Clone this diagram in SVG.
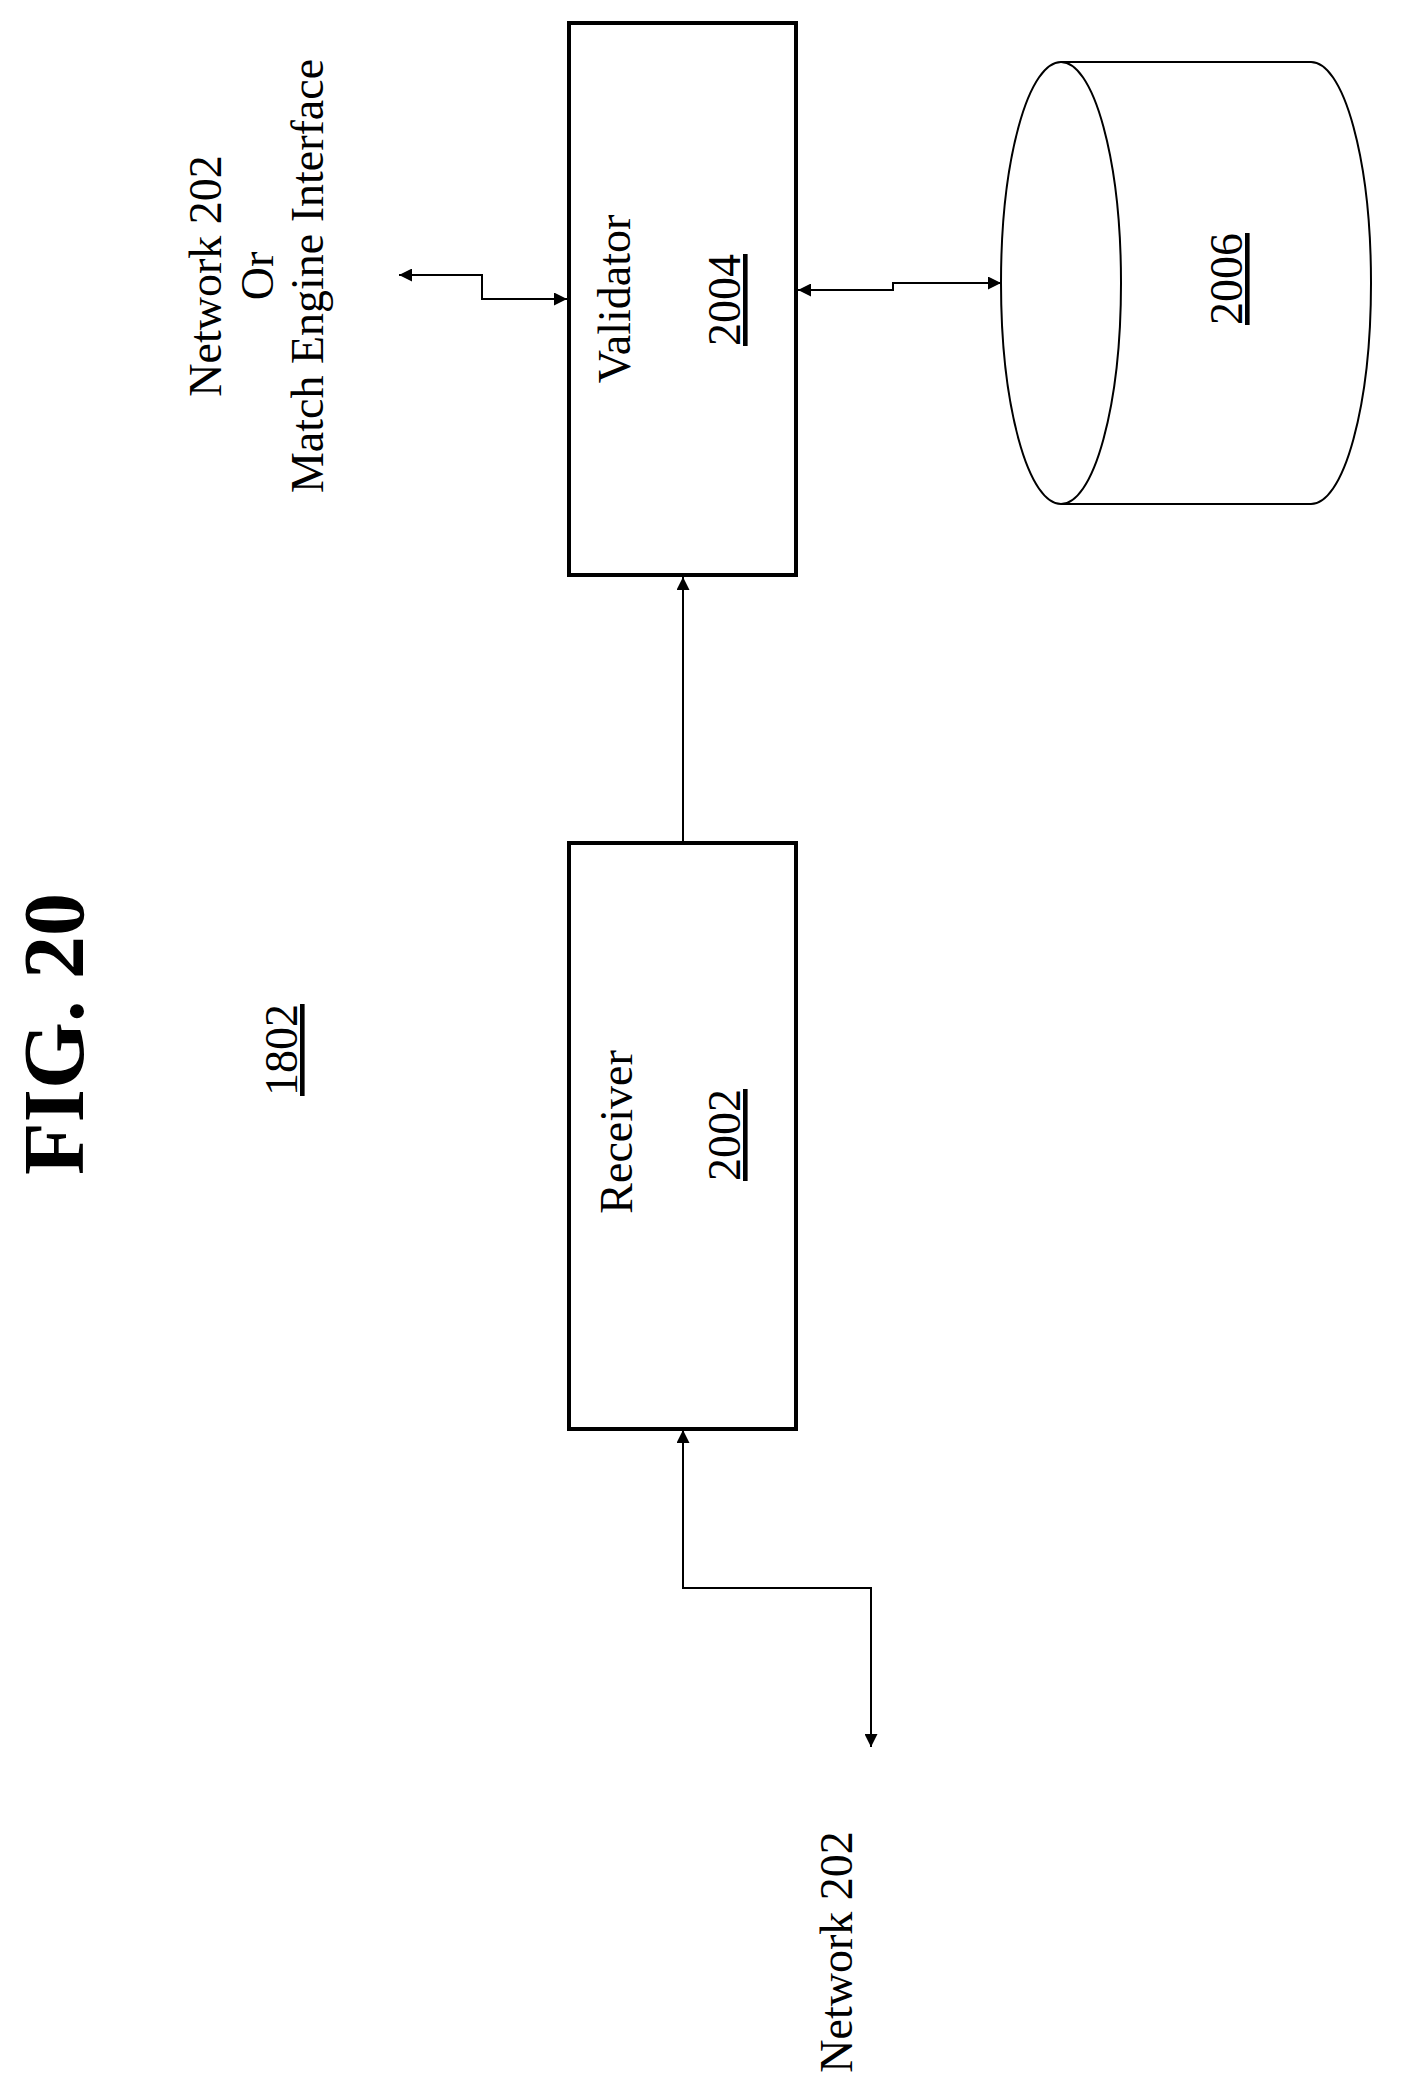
<svg xmlns="http://www.w3.org/2000/svg" width="1405" height="2099" viewBox="0 0 1405 2099">
<style>
text{font-family:"Liberation Serif","Times New Roman",serif;font-size:46px;fill:#000;text-anchor:middle}
.u{text-decoration:underline}
.box{fill:#fff;stroke:#000;stroke-width:4}
.c{fill:none;stroke:#000;stroke-width:2}
</style>
<defs>
<marker id="a" viewBox="0 0 10 10" refX="10" refY="5" markerWidth="13" markerHeight="13" markerUnits="userSpaceOnUse" orient="auto-start-reverse"><path d="M0,0L10,5L0,10z" fill="#000"/></marker>
</defs>
<text transform="translate(83,1034) rotate(-90)" style="font-size:86px;font-weight:bold">FIG. 20</text>
<text class="u" transform="translate(297,1050) rotate(-90)">1802</text>
<g id="labels">
<text transform="translate(221,276) rotate(-90)">Network 202</text>
<text transform="translate(273,276) rotate(-90)">Or</text>
<text transform="translate(323,276) rotate(-90)">Match Engine Interface</text>
<text transform="translate(852,1952) rotate(-90)">Network 202</text>
</g>
<g id="validator">
<rect class="box" x="569" y="23" width="227" height="552"/>
<text transform="translate(630,299) rotate(-90)">Validator</text>
<text class="u" transform="translate(740,300) rotate(-90)">2004</text>
</g>
<g id="receiver">
<rect class="box" x="569" y="843" width="227" height="586"/>
<text transform="translate(632,1132) rotate(-90)">Receiver</text>
<text class="u" transform="translate(740,1135) rotate(-90)">2002</text>
</g>
<g id="db">
<path d="M1061,62 L1311,62 A60,221 0 0 1 1311,504 L1061,504 A60,221 0 0 1 1061,62 Z" fill="#fff" stroke="#000" stroke-width="2"/>
<path d="M1061,62 A60,221 0 0 1 1061,504" fill="none" stroke="#000" stroke-width="2"/>
<text class="u" transform="translate(1242,279) rotate(-90)">2006</text>
</g>
<g id="connectors">
<path class="c" d="M683,843 L683,577" marker-end="url(#a)"/>
<path class="c" d="M871,1747 L871,1588 L683,1588 L683,1430" marker-start="url(#a)" marker-end="url(#a)"/>
<path class="c" d="M798,290 L893,290 L893,283 L1001,283" marker-start="url(#a)" marker-end="url(#a)"/>
<path class="c" d="M399,275 L482,275 L482,299 L567,299" marker-start="url(#a)" marker-end="url(#a)"/>
</g>
</svg>
